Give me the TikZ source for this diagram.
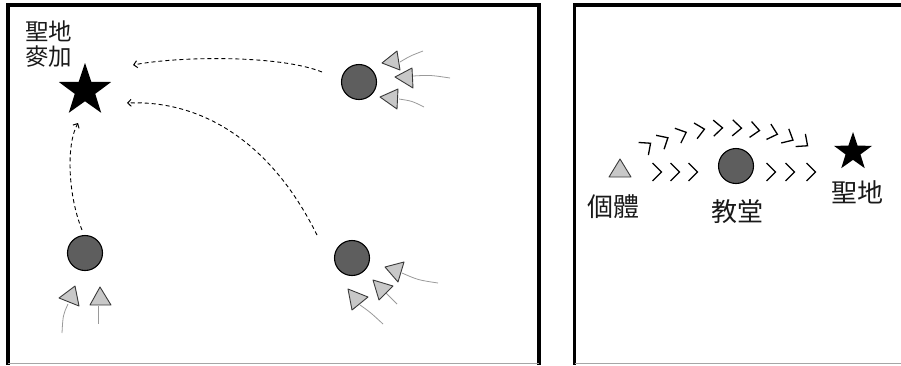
\documentclass[tikz,border=0pt]{standalone}
\usepackage{fontspec}
\newfontfamily\cjk{Noto Sans CJK TC}
\usetikzlibrary{shapes.geometric,arrows.meta}
\definecolor{dotfill}{HTML}{5E5E5E}
\definecolor{trifill}{HTML}{C8C8C8}
\definecolor{triline}{HTML}{3A3A3A}
\definecolor{tailcol}{HTML}{9A9A9A}
\tikzset{
  frame/.style={line width=3.5pt,line cap=rect},
  frameedge/.style={line width=1pt,draw=gray!70},
  dot/.style={circle,fill=dotfill,draw=black,line width=1.1pt,minimum size=35pt,inner sep=0pt},
  bigstar/.style={star,star points=5,star point ratio=2.55,fill=black,draw=none,inner sep=0pt},
  tri/.style={fill=trifill,draw=triline,line width=0.9pt,line join=round},
  tail/.style={draw=tailcol,line width=0.8pt},
  route/.style={dash pattern=on 4pt off 3pt,line width=0.9pt,-{Straight Barb[length=3.5pt,width=7pt,line width=1pt]}},
  chev/.style={line width=1.3pt,line join=miter},
  lab/.style={font=\cjk\fontsize{26}{28}\selectfont,inner sep=0pt,text=black!90},
}
\begin{document}
\begin{tikzpicture}[x=1pt,y=-1pt]
\useasboundingbox (0,0) rectangle (901,365);
% frames
\draw[frame] (8,363) -- (8,5) -- (539,5) -- (539,363);
\draw[frameedge] (8,363.5) -- (539,363.5);
\draw[frame] (574.5,363) -- (574.5,5) -- (905,5);
\draw[frameedge] (574.5,363.5) -- (901,363.5);

% ---------- left panel ----------
\node[bigstar,minimum size=55pt] (mecca) at (85,90.5) {};
\node[lab,font=\cjk\fontsize{23.5}{25}\selectfont,anchor=north west,align=left] (meccalab) at (25,21) {聖地\\麥加};

\node[dot] (c1) at (359,82) {};
\node[dot] (c2) at (85,253) {};
\node[dot] (c3) at (352,258) {};

\coordinate (s1) at (322,72);
\coordinate (s2) at (317,235);
\coordinate (s3) at (82,230);
\coordinate (e1) at (133,65);
\coordinate (e2) at (127,103);
\coordinate (e3) at (78,123);
\draw[route] (s1) .. controls (280,55) and (180,56) .. (e1);
\draw[route] (s2) .. controls (270,140) and (200,100) .. (e2);
\draw[route] (s3) .. controls (68,195) and (66,145) .. (e3);

% triangles and tails (top right group)
\draw[tail] (400,62) .. controls (410,56) .. (423,51);
\draw[tail] (413,76) .. controls (430,75) .. (450,78);
\draw[tail] (399,99) .. controls (412,101) .. (424,107);
\draw[tri] (382,63) -- (397,51) -- (400,70) -- cycle;
\draw[tri] (395,77) -- (412,68) -- (413,88) -- cycle;
\draw[tri] (380,97) -- (398,89) -- (397,109) -- cycle;
% bottom left group
\draw[tail] (68,304) .. controls (63,315) .. (62,333);
\draw[tail] (98,306) -- (98,324);
\draw[tri] (59,298) -- (75,286) -- (79,306) -- cycle;
\draw[tri] (100,287) -- (90,305) -- (111,305) -- cycle;
% bottom right group
\draw[tail] (402,273) .. controls (418,280) .. (438,283);
\draw[tail] (386,293) .. controls (392,298) .. (397,304);
\draw[tail] (360,305) .. controls (370,312) .. (383,324);
\draw[tri] (385,267) -- (404,262) -- (398,282) -- cycle;
\draw[tri] (373,280) -- (393,286) -- (379,300) -- cycle;
\draw[tri] (348,289) -- (368,297) -- (352,310) -- cycle;

% ---------- right panel ----------
\draw[tri] (609,177) -- (620,159) -- (631,177) -- cycle;
\node[lab] (indiv) at (613,207) {個體};
\node[dot] (church) at (736,166) {};
\node[lab] (churchlab) at (737,212) {教堂};
\node[bigstar,minimum size=40pt] (holy) at (853,152) {};
\node[lab] (holylab) at (857,192) {聖地};

% straight chevrons
\foreach \x in {657,675,693,771,790,811}{
  \draw[chev] (\x-4.5,163) -- (\x+4.5,172) -- (\x-4.5,181);
}
% arc chevrons
\foreach \x/\y/\a in {647/146/38,664/140/30,682/134/22,700/130/11,718/128/2,737/128/-2,755/130/-7,773/133/-16,789/138/-28,804/143/-38}{
  \draw[chev,rotate around={\a:(\x,\y)}] (\x-4.5,\y-8) -- (\x+4.5,\y) -- (\x-4.5,\y+8);
}
\end{tikzpicture}
\end{document}
